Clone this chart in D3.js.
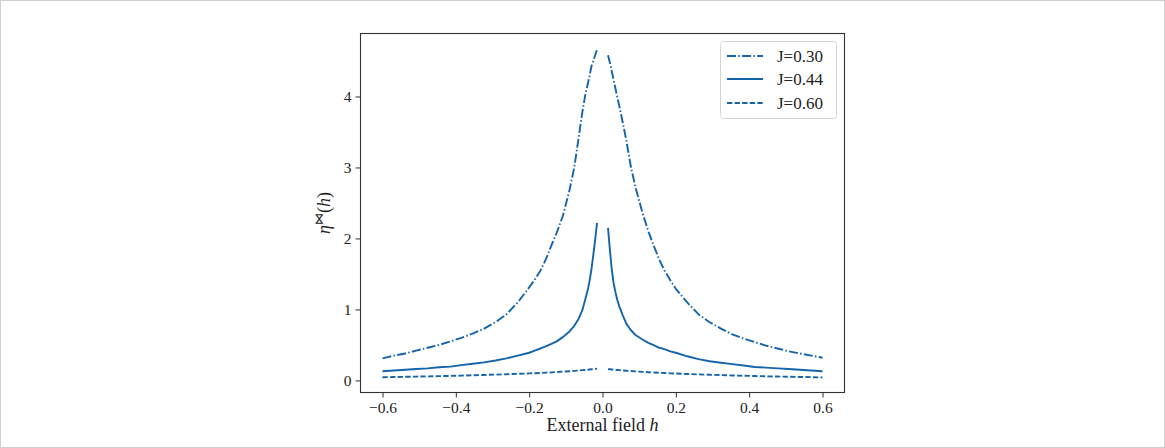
<!DOCTYPE html>
<html><head><meta charset="utf-8">
<script src="https://cdn.jsdelivr.net/npm/d3@7"></script>
<style>body{margin:0;background:#fff;} text{font-family:"Liberation Serif","DejaVu Serif",serif;}</style>
</head><body>
<svg id="c" width="1165" height="448"></svg>
<script>
const hValues = [-0.600,-0.569,-0.538,-0.508,-0.477,-0.446,-0.415,-0.385,-0.354,-0.323,-0.292,-0.262,-0.231,-0.200,-0.185,-0.169,-0.155,-0.138,-0.125,-0.108,-0.090,-0.077,-0.065,-0.055,-0.046,-0.040,-0.035,-0.030,-0.025,-0.020,-0.015,
                  0.015,0.020,0.025,0.030,0.035,0.040,0.046,0.055,0.065,0.077,0.090,0.108,0.125,0.138,0.155,0.169,0.185,0.200,0.231,0.262,0.292,0.323,0.354,0.385,0.415,0.446,0.477,0.508,0.538,0.569,0.600];
const etaJ030 = [0.31,0.35,0.38,0.42,0.46,0.50,0.55,0.60,0.66,0.73,0.82,0.93,1.10,1.31,1.42,1.55,1.70,1.92,2.08,2.32,2.68,3.00,3.42,3.78,4.05,4.18,4.30,4.43,4.50,4.58,4.66,
                 4.58,4.48,4.36,4.24,4.12,4.00,3.86,3.64,3.38,3.02,2.72,2.38,2.10,1.92,1.70,1.55,1.41,1.29,1.10,0.93,0.82,0.73,0.65,0.59,0.54,0.49,0.45,0.41,0.38,0.35,0.32];
const etaJ044 = [0.13,0.14,0.15,0.16,0.17,0.185,0.195,0.215,0.235,0.255,0.28,0.31,0.35,0.39,0.42,0.45,0.48,0.52,0.55,0.61,0.69,0.77,0.87,0.99,1.16,1.28,1.41,1.57,1.77,1.98,2.22,
                 2.15,1.85,1.58,1.38,1.25,1.14,1.04,0.92,0.80,0.71,0.64,0.58,0.53,0.50,0.46,0.44,0.41,0.39,0.34,0.30,0.27,0.25,0.23,0.21,0.19,0.18,0.17,0.16,0.15,0.14,0.13];
const etaJ060 = [0.045,0.048,0.051,0.054,0.057,0.060,0.064,0.068,0.073,0.077,0.082,0.087,0.093,0.099,0.102,0.106,0.110,0.114,0.119,0.124,0.130,0.135,0.140,0.145,0.148,0.151,0.154,0.157,0.160,0.162,0.165,
                 0.160,0.157,0.154,0.151,0.149,0.147,0.145,0.141,0.137,0.132,0.127,0.121,0.116,0.112,0.108,0.104,0.100,0.097,0.091,0.085,0.080,0.075,0.070,0.066,0.062,0.058,0.055,0.052,0.049,0.046,0.042];
const seriesNames = ["J=0.30","J=0.44","J=0.60"];
const xTicks = [-0.6,-0.4,-0.2,0.0,0.2,0.4,0.6];
const yTicks = [0,1,2,3,4];

const color = "#1464ac";
const dashes = ["9,2.3,1.5,2.3", null, "5.3,2.3"];
const seriesData = [etaJ030, etaJ044, etaJ060];

const svg = d3.select("#c");
svg.append("rect").attr("x",0.5).attr("y",0.5).attr("width",1164).attr("height",447)
   .attr("fill","#fff").attr("stroke","#d0d0d0");

const L = 360.5, R = 844.5, T = 33.5, B = 392.5;
const x = d3.scaleLinear().domain([-0.66,0.66]).range([L,R]);
const y = d3.scaleLinear().domain([-0.17,4.887]).range([B,T]);

const fmtX = d => (d<0?"\u2212":"") + Math.abs(d).toFixed(1);

const gx = svg.append("g").attr("transform",`translate(0,${B})`)
  .call(d3.axisBottom(x).tickValues(xTicks).tickFormat(fmtX).tickSize(5).tickPadding(4));
const gy = svg.append("g").attr("transform",`translate(${L},0)`)
  .call(d3.axisLeft(y).tickValues(yTicks).tickFormat(d3.format("d")).tickSize(5).tickPadding(4));
[gx,gy].forEach(g=>{
  g.select(".domain").remove();
  g.selectAll(".tick line").attr("stroke","#333").attr("stroke-width",1);
  g.selectAll(".tick text").attr("fill","#222").style("font-size","15.5px");
});

// lines
const line = d3.line().x(d=>x(d[0])).y(d=>y(d[1]));
seriesData.forEach((vals,i)=>{
  const pts = hValues.map((h,k)=>[h,vals[k]]);
  [pts.filter(p=>p[0]<0), pts.filter(p=>p[0]>0)].forEach(seg=>{
    const p = svg.append("path").attr("d",line(seg)).attr("fill","none")
      .attr("stroke",color).attr("stroke-width",1.9).attr("stroke-linejoin","round");
    if (dashes[i]) p.attr("stroke-dasharray",dashes[i]);
  });
});

// frame
svg.append("rect").attr("x",L).attr("y",T).attr("width",R-L).attr("height",B-T)
  .attr("fill","none").attr("stroke","#333").attr("stroke-width",1.1);

// axis labels
const xl = svg.append("text").attr("x",(L+R)/2).attr("y",431).attr("text-anchor","middle")
  .attr("fill","#222").style("font-size","18px");
xl.append("tspan").text("External field ");
xl.append("tspan").attr("font-style","italic").text("h");

const yl = svg.append("text").attr("transform",`translate(330,213) rotate(-90)`)
  .attr("text-anchor","middle").attr("fill","#222").style("font-size","18px");
yl.append("tspan").attr("font-style","italic").text("\u03B7");
yl.append("tspan").attr("dy",-7).style("font-size","12px").text("\u22C8");
yl.append("tspan").attr("dy",7).text("(");
yl.append("tspan").attr("font-style","italic").text("h");
yl.append("tspan").text(")");

// legend
const lg = svg.append("g");
lg.append("rect").attr("x",720.5).attr("y",41.5).attr("width",116).attr("height",77).attr("rx",3)
  .attr("fill","#fff").attr("stroke","#d5d5d5");
const rows = [56,79,103];
seriesNames.forEach((n,i)=>{
  const l = lg.append("line").attr("x1",727).attr("x2",763).attr("y1",rows[i]).attr("y2",rows[i])
    .attr("stroke",color).attr("stroke-width",1.9);
  if (dashes[i]) l.attr("stroke-dasharray",dashes[i]);
  lg.append("text").attr("x",777).attr("y",rows[i]+5.5).attr("fill","#222")
    .style("font-size","17px").text(n);
});
</script>
</body></html>
